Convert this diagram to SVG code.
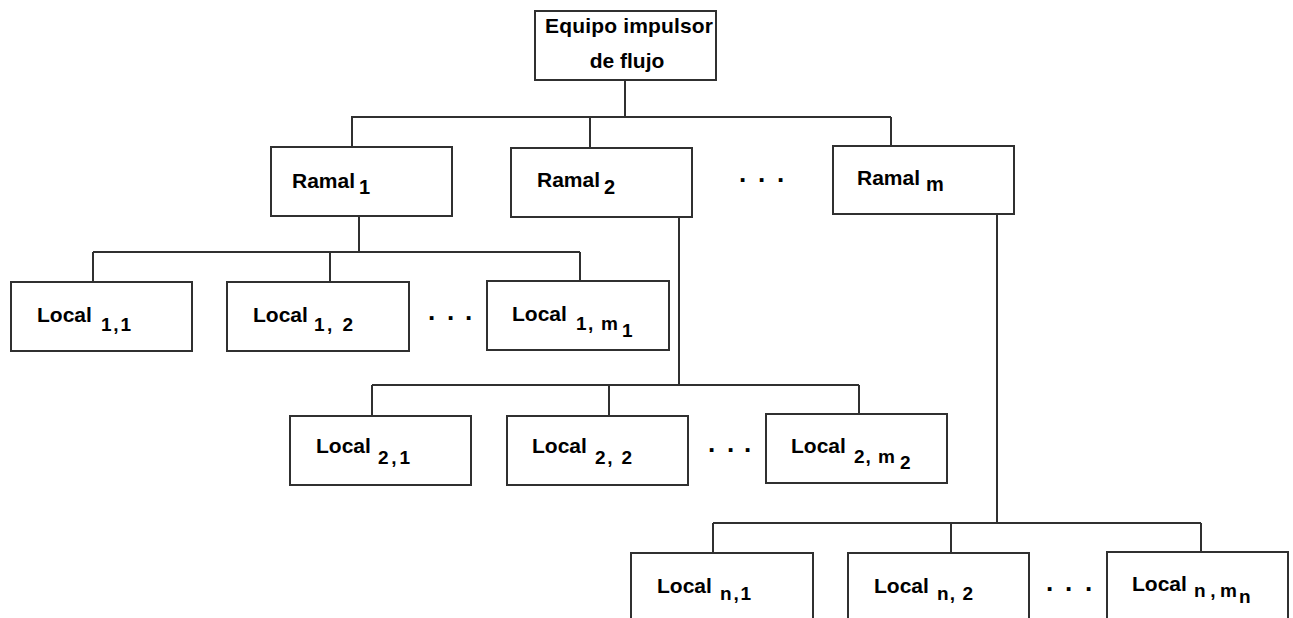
<svg xmlns="http://www.w3.org/2000/svg" width="1293" height="618" viewBox="0 0 1293 618">
  <style>
    .box { fill: #ffffff; stroke: #303030; stroke-width: 2; }
    .wire { fill: none; stroke: #303030; stroke-width: 2; }
    text { font-family: "Liberation Sans", Arial, sans-serif; font-weight: bold; fill: #000000; }
    .main { font-size: 21px; }
    .sub { font-size: 19px; }
    .rsub { font-size: 20px; }
    .dots { font-size: 26px; }
  </style>
  <rect width="1293" height="618" fill="#ffffff"/>

  <!-- connectors -->
  <g id="connectors" class="wire">
    <path d="M625 80 V117 M351 117 H891 M352 117 V147 M590 117 V148 M891 117 V146"/>
    <path d="M359 216 V252 M93 252 H580 M93 252 V282 M330 252 V282 M580 252 V281"/>
    <path d="M679 217 V385 M372 385 H859 M372 385 V416 M609 385 V416 M859 385 V414"/>
    <path d="M997 214 V523 M713 523 H1201 M713 523 V553 M951 523 V553 M1201 523 V552"/>
  </g>

  <!-- root -->
  <g id="equipo">
    <rect class="box" x="535" y="11" width="181" height="69"/>
    <text class="main" x="629" y="33" text-anchor="middle" textLength="168">Equipo impulsor</text>
    <text class="main" x="627" y="68" text-anchor="middle">de flujo</text>
  </g>

  <!-- branches -->
  <g id="ramal1">
    <rect class="box" x="271" y="147" width="181" height="69"/>
    <text class="main" x="292" y="188">Ramal</text>
    <text class="rsub" x="359" y="194">1</text>
  </g>
  <g id="ramal2">
    <rect class="box" x="511" y="148" width="181" height="69"/>
    <text class="main" x="537" y="187">Ramal</text>
    <text class="rsub" x="604" y="194">2</text>
  </g>
  <g id="ramal-dots">
    <text class="dots" x="739 758 777" y="182">...</text>
  </g>
  <g id="ramalm">
    <rect class="box" x="833" y="146" width="181" height="68"/>
    <text class="main" x="857" y="185">Ramal</text>
    <text class="rsub" x="926" y="191">m</text>
  </g>

  <!-- locals of branch 1 -->
  <g id="local-1-1">
    <rect class="box" x="11" y="282" width="181" height="69"/>
    <text class="main" x="37" y="322">Local</text>
    <text class="sub" x="101" y="331" textLength="30">1,1</text>
  </g>
  <g id="local-1-2">
    <rect class="box" x="227" y="282" width="182" height="69"/>
    <text class="main" x="253" y="322">Local</text>
    <text class="sub" x="314" y="331" textLength="39">1, 2</text>
  </g>
  <g id="local-1-dots">
    <text class="dots" x="428 447 465" y="320">...</text>
  </g>
  <g id="local-1-m1">
    <rect class="box" x="487" y="281" width="182" height="69"/>
    <text class="main" x="512" y="321">Local</text>
    <text class="sub" x="576" y="330" textLength="42">1, m</text>
    <text class="sub" x="622" y="337">1</text>
  </g>

  <!-- locals of branch 2 -->
  <g id="local-2-1">
    <rect class="box" x="290" y="416" width="181" height="69"/>
    <text class="main" x="316" y="453">Local</text>
    <text class="sub" x="378" y="464" textLength="32">2,1</text>
  </g>
  <g id="local-2-2">
    <rect class="box" x="507" y="416" width="181" height="69"/>
    <text class="main" x="532" y="453">Local</text>
    <text class="sub" x="595" y="464" textLength="37">2, 2</text>
  </g>
  <g id="local-2-dots">
    <text class="dots" x="708 727 744" y="452">...</text>
  </g>
  <g id="local-2-m2">
    <rect class="box" x="766" y="414" width="181" height="69"/>
    <text class="main" x="791" y="453">Local</text>
    <text class="sub" x="854" y="463" textLength="41">2, m</text>
    <text class="sub" x="900" y="469">2</text>
  </g>

  <!-- locals of branch n -->
  <g id="local-n-1">
    <rect class="box" x="631" y="553" width="182" height="80"/>
    <text class="main" x="657" y="593">Local</text>
    <text class="sub" x="720" y="600" textLength="31">n,1</text>
  </g>
  <g id="local-n-2">
    <rect class="box" x="848" y="553" width="181" height="80"/>
    <text class="main" x="874" y="593">Local</text>
    <text class="sub" x="937" y="600" textLength="36">n, 2</text>
  </g>
  <g id="local-n-dots">
    <text class="dots" x="1046 1065 1085" y="591">...</text>
  </g>
  <g id="local-n-mn">
    <rect class="box" x="1107" y="552" width="181" height="80"/>
    <text class="main" x="1132" y="591">Local</text>
    <text class="sub" x="1194" y="597" textLength="43">n,m</text>
    <text class="sub" x="1239" y="603">n</text>
  </g>
</svg>
